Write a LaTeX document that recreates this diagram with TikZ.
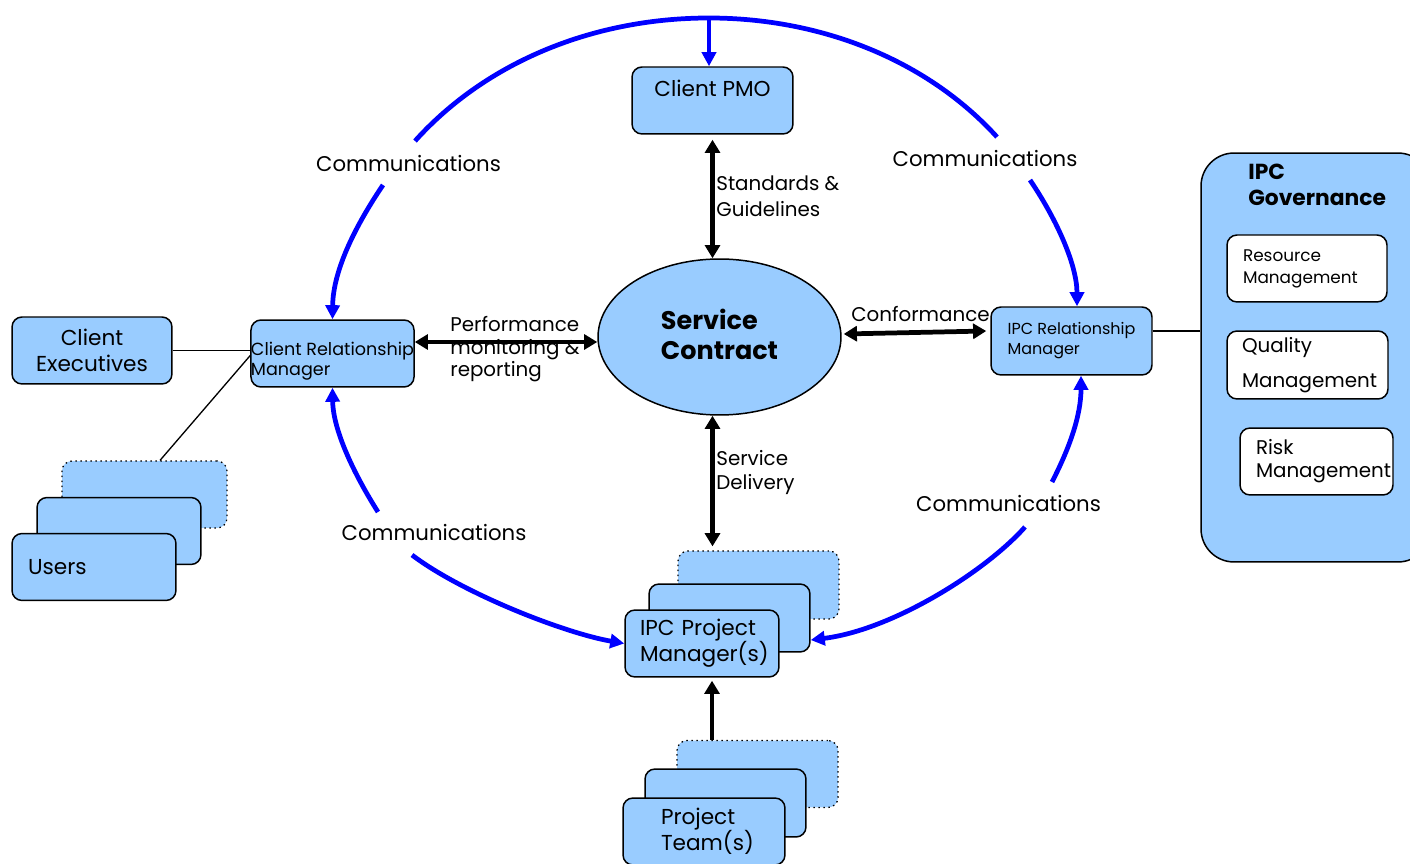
\documentclass[tikz,border=0pt]{standalone}
\usepackage{fontspec}
\setmainfont{Poppins}
\usetikzlibrary{shapes,arrows.meta,calc}

\definecolor{boxblue}{RGB}{153,204,255}
\definecolor{commblue}{RGB}{0,0,255}

\tikzset{
  box/.style={shape=rectangle,rounded corners=0.2cm,draw=black,fill=boxblue,line width=0.85pt,
    minimum width=3.22cm,minimum height=1.34cm,inner sep=0pt,font=\fontsize{12.3}{14.7}\selectfont},
  ghost/.style={box,dotted,line width=0.7pt},
  subbox/.style={box,fill=white},
  commline/.style={draw=commblue,line width=2.7pt},
  comm/.style={commline,-{Triangle[length=8pt,width=8pt]}},
  biarrow/.style={draw=black,line width=2.7pt,{Triangle[length=7.5pt,width=8.5pt]}-{Triangle[length=7.5pt,width=8.5pt]}},
  onearrow/.style={draw=black,line width=2.7pt,-{Triangle[length=7.5pt,width=8.5pt]}},
  link/.style={draw=black,line width=0.75pt},
  commtext/.style={font=\fontsize{12.1}{14.7}\selectfont,inner sep=0pt},
  lbl/.style={font=\fontsize{11.3}{14.7}\selectfont,align=left,inner sep=0pt,anchor=west}
}

\begin{document}
\begin{tikzpicture}[x=0.02cm,y=-0.02cm]
\useasboundingbox (0,0) rectangle (1410,864);

% governance panel on the right
\node[box,minimum width=4.6cm,minimum height=8.18cm,rounded corners=0.66cm] (gov) at (1316,357.5) {};
\node[font=\fontsize{12.4}{14.7}\selectfont\bfseries,align=left,inner sep=0pt,anchor=north west] (govtitle) at (1248,164) {IPC\\Governance};
\node[subbox,minimum width=3.2cm,text width=2.56cm,align=left,font=\fontsize{9.6}{12.5}\selectfont] (res) at (1307,268.5) {Resource\\Management};
\node[subbox,minimum height=1.36cm,text width=2.62cm,align=left,font=\fontsize{11.3}{19.8}\selectfont] (qual) at (1307.5,365) {Quality\\Management};
\node[subbox,minimum width=3.06cm,text width=2.42cm,align=left,font=\fontsize{11.3}{13}\selectfont] (risk) at (1316.5,461.5) {Risk\\Management};

% main boxes
\node[box,text depth=14pt] (pmo) at (712.5,100.5) {Client PMO};
\node[ellipse,draw=black,fill=boxblue,line width=0.85pt,minimum width=4.86cm,minimum height=3.12cm,inner sep=0pt,
  align=left,font=\fontsize{14.5}{17}\selectfont\bfseries] (sc) at (719.5,337) {Service\\Contract\rule[-3.4pt]{0pt}{0pt}};
\node[box,align=left,font=\fontsize{10}{11.3}\selectfont] (crm) at (332.5,353.5) {\rule{0pt}{16.3pt}Client Relationship\\Manager};
\node[box,minimum height=1.36cm,align=left,font=\fontsize{9.1}{11.3}\selectfont] (irm) at (1071.5,341) {IPC Relationship\\Manager};
\node[box,minimum width=3.2cm,align=center] (cexec) at (92,350.5) {Client\\Executives};

% stacked users
\node[ghost,minimum width=3.3cm] (users3) at (144.5,494.5) {};
\node[box,minimum width=3.28cm] (users2) at (119,531) {};
\node[box,minimum width=3.28cm,text width=2.64cm,align=left] (users) at (94,567) {Users};

% stacked project managers
\node[ghost,minimum height=1.36cm] (pm3) at (758.5,585) {};
\node[box,minimum height=1.36cm] (pm2) at (729.5,618) {};
\node[box,minimum width=3.08cm,text width=2.48cm,align=left] (pm) at (702,643.5) {IPC Project\\Manager(s)};

% stacked project teams
\node[ghost] (pt3) at (757.5,774) {};
\node[box,minimum height=1.36cm] (pt2) at (725.5,803) {};
\node[box,minimum width=3.24cm,text width=1.72cm,align=left] (pt) at (704,831.5) {Project\\Team(s)};

% labels
\node[commtext] (cnw) at (408.5,164) {Communications};
\node[commtext] (cne) at (985,159) {Communications};
\node[commtext] (csw) at (434,533) {Communications};
\node[commtext] (cse) at (1008.5,504) {Communications};
\node[lbl] (stdlbl) at (716,196) {Standards \&\\Guidelines};
\node[lbl,font=\fontsize{11.3}{12.75}\selectfont] (perflbl) at (450,349.5) {Performance\\monitoring \&\\reporting};
\node[lbl] (conflbl) at (851,314) {Conformance};
\node[lbl,font=\fontsize{11.3}{14.2}\selectfont] (svclbl) at (716,472.5) {Service\\Delivery};

% communication ring
\coordinate (apex) at (709,18);
\coordinate (nwend) at (415,141);
\coordinate (neend) at (997,137);
\coordinate (nwfoot) at (383,185);
\coordinate (nefoot) at (1030,180);
\coordinate (swtop) at (378,512);
\coordinate (swfoot) at (412,555);
\coordinate (setop) at (1052,482);
\coordinate (sefoot) at (1025,527);

\draw[commline] (nwend) .. controls (487,61) and (595,18) .. (apex) .. controls (821,18) and (927,60) .. (neend);
\draw[comm] (apex) -- (apex |- pmo.north);
\draw[comm] (nwfoot) .. controls (356,225) and (333,270) .. (crm.north);
\draw[comm] (nefoot) .. controls (1057,220) and (1077,265) .. ($(irm.north)+(5.5,0)$);
\draw[comm] (swtop) .. controls (354,474) and (333,430) .. (crm.south);
\draw[comm] (swfoot) .. controls (462,593) and (564,633) .. (pm.west);
\draw[comm] (setop) .. controls (1070,447) and (1081,415) .. ($(irm.south)+(9.5,0)$);
\draw[comm] (sefoot) .. controls (985,572) and (892,630) .. ($(pm2.east)+(0,22)$);

% contract links
\draw[biarrow,shorten <=0.1cm] (pmo.south) -- (pmo.south |- sc.north);
\draw[biarrow] ($(crm.east)+(0,-11.5)$) -- ($(sc.west)+(0,5)$);
\draw[biarrow] ($(sc.east)+(2,-3)$) -- ($(irm.west)+(-4,-10)$);
\draw[biarrow,shorten >=0.08cm] (pmo.south |- sc.south) -- (pmo.south |- pm3.north);
\draw[onearrow,shorten >=0.06cm] ($(pt3.north)+(-45.5,0)$) -- ($(pm.south)+(10,0)$);

% plain connections
\draw[link] (cexec.east) -- (cexec.east -| crm.west);
\draw[link] ($(crm.west)+(0,2)$) -- ($(users3.north)+(15.5,0)$);
\draw[link] ($(irm.east)+(0,-10)$) coordinate (gl) -- (gl -| gov.west);
\end{tikzpicture}
\end{document}
